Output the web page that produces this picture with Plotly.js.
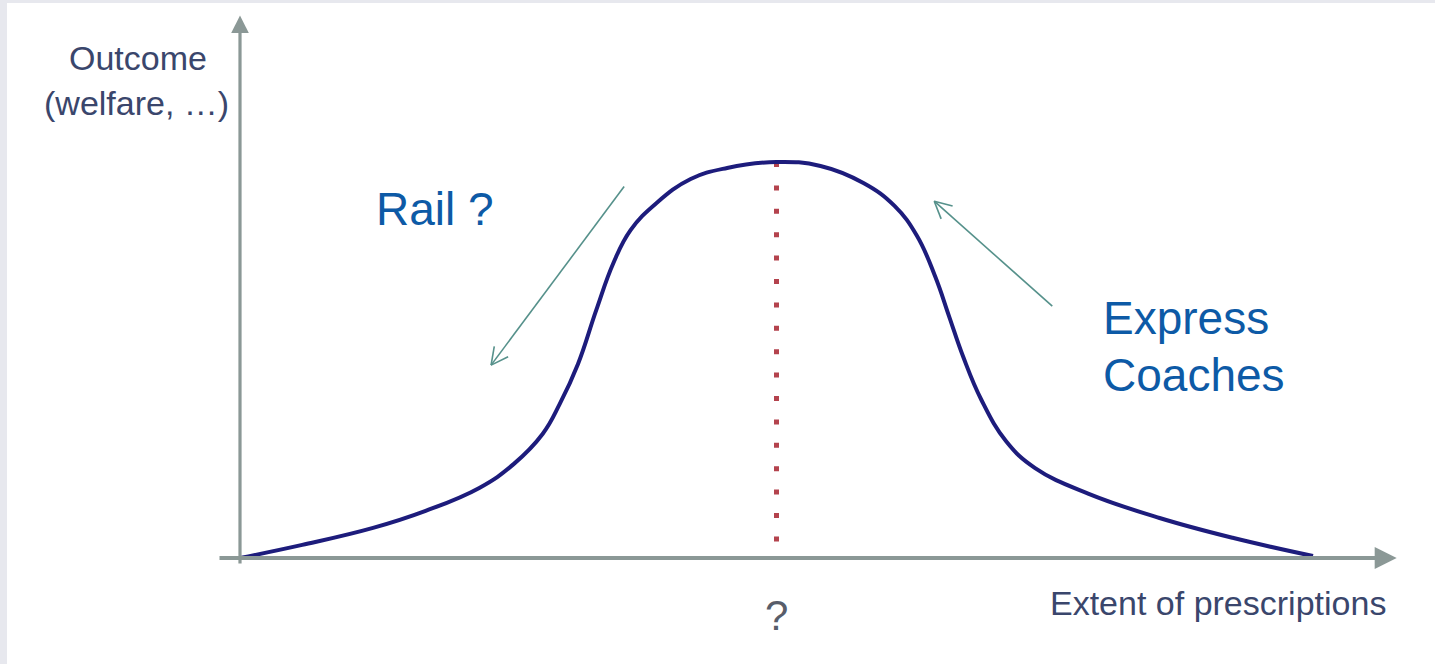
<!DOCTYPE html>
<html>
<head>
<meta charset="utf-8">
<script src="https://cdn.plot.ly/plotly-3.0.1.min.js"></script>
<style>
  html, body { margin: 0; padding: 0; background: #ffffff; overflow: hidden; }
  #frame {
    width: 1428px; height: 661px;
    border-left: 7px solid #e7e8ee;
    border-top: 3px solid #e7e8ee;
  }
  #chart { width: 1428px; height: 661px; }
</style>
</head>
<body>
<div id="frame"><div id="chart"></div></div>
<script>
// Extent of prescriptions (x) and resulting outcome (y) along the bell-shaped curve
const extent  = [0.00, 0.58, 1.24, 1.73, 2.23, 2.55, 2.82, 2.98, 3.15, 3.32, 3.48, 3.64, 3.88, 4.20, 4.54, 5.00,
                 5.41, 5.81, 6.10, 6.31, 6.48, 6.61, 6.74, 6.91, 7.14, 7.41, 7.91, 8.57, 9.25, 10.00];
const outcome = [0.000, 0.033, 0.076, 0.119, 0.177, 0.237, 0.313, 0.389, 0.490, 0.626, 0.745, 0.828, 0.896, 0.957, 0.985, 1.000,
                 0.990, 0.947, 0.889, 0.813, 0.710, 0.609, 0.508, 0.399, 0.295, 0.227, 0.162, 0.101, 0.051, 0.005];

// Optimum marker: vertical dotted line from the peak down to the axis
const optimumX = [5.0, 5.0];
const optimumY = [1.0, 0.033];
const optimumLabel = '?';

// Axis titles
const yTitleLines = ['Outcome', '(welfare, \u2026)'];
const xTitle = 'Extent of prescriptions';

// Mode labels with the direction arrows pointing along the curve (tail -> head)
const railLabel = 'Rail ?';
const railArrowX = [3.58, 2.34];
const railArrowY = [0.938, 0.487];
const coachLabels = ['Express', 'Coaches'];
const coachArrowX = [7.57, 6.47];
const coachArrowY = [0.636, 0.901];

// Axis arrows (tail -> head)
const xAxisArrowX = [-0.205, 10.78];
const xAxisArrowY = [0, 0];
const yAxisArrowX = [0, 0];
const yAxisArrowY = [-0.018, 1.37];

const W = 1428, H = 661;
const xRange = [-2.1715, 11.137];
const yRange = [-0.2677, 1.4015];
const pxPerX = W / (xRange[1] - xRange[0]);
const pxPerY = H / (yRange[1] - yRange[0]);

const axisColor = '#8b9896';
const arrowColor = '#56918b';
const labelBlue = '#0d5aa6';
const axisText = '#3a466c';
const font = 'Liberation Sans, Arial, sans-serif';

const traces = [
  {
    x: optimumX, y: optimumY, mode: 'lines', hoverinfo: 'skip',
    line: { color: '#b4434d', width: 5, dash: '5px,18.4px' }
  },
  {
    x: extent, y: outcome, mode: 'lines', hoverinfo: 'skip',
    line: { color: '#1d1c7c', width: 4, shape: 'spline', smoothing: 1.2 }
  }
];

// Thin arrow with an open V head, drawn as line shapes
function openArrow(xs, ys, color) {
  const shapes = [{
    type: 'line', xref: 'x', yref: 'y',
    x0: xs[0], y0: ys[0], x1: xs[1], y1: ys[1],
    line: { color: color, width: 1.6 }
  }];
  // direction from head back to tail, in pixels
  const dx = (xs[0] - xs[1]) * pxPerX;
  const dy = (ys[0] - ys[1]) * pxPerY;
  const len = Math.hypot(dx, dy);
  const ux = dx / len, uy = dy / len;
  const wing = 19, ang = 27 * Math.PI / 180;
  [ang, -ang].forEach(a => {
    const wx = ux * Math.cos(a) - uy * Math.sin(a);
    const wy = ux * Math.sin(a) + uy * Math.cos(a);
    shapes.push({
      type: 'line', xref: 'x', yref: 'y',
      x0: xs[1], y0: ys[1],
      x1: xs[1] + wx * wing / pxPerX, y1: ys[1] + wy * wing / pxPerY,
      line: { color: color, width: 1.6 }
    });
  });
  return shapes;
}

function axisArrow(xs, ys, width) {
  return {
    x: xs[1], y: ys[1], ax: xs[0], ay: ys[0],
    xref: 'x', yref: 'y', axref: 'x', ayref: 'y',
    text: '', showarrow: true, arrowhead: 2, arrowsize: 1.1,
    arrowwidth: width, arrowcolor: axisColor, standoff: 0, startstandoff: 0
  };
}

const annotations = [
  axisArrow(xAxisArrowX, xAxisArrowY, 4),
  axisArrow(yAxisArrowX, yAxisArrowY, 3.2),
  { x: -0.95, y: 1.262, xref: 'x', yref: 'y', text: yTitleLines[0], showarrow: false,
    xanchor: 'center', yanchor: 'middle', font: { family: font, size: 34, color: axisText } },
  { x: -0.96, y: 1.149, xref: 'x', yref: 'y', text: yTitleLines[1], showarrow: false,
    xanchor: 'center', yanchor: 'middle', font: { family: font, size: 34, color: axisText } },
  { x: 10.70, y: -0.114, xref: 'x', yref: 'y', text: xTitle, showarrow: false,
    xanchor: 'right', yanchor: 'middle', font: { family: font, size: 34, color: axisText } },
  { x: optimumX[0], y: -0.144, xref: 'x', yref: 'y', text: optimumLabel, showarrow: false,
    xanchor: 'center', yanchor: 'middle', font: { family: font, size: 42, color: '#585d6a' } },
  { x: 1.25, y: 0.881, xref: 'x', yref: 'y', text: railLabel, showarrow: false,
    xanchor: 'left', yanchor: 'middle', font: { family: font, size: 46, color: labelBlue } },
  { x: 8.02, y: 0.606, xref: 'x', yref: 'y', text: coachLabels[0], showarrow: false,
    xanchor: 'left', yanchor: 'middle', font: { family: font, size: 46, color: labelBlue } },
  { x: 8.02, y: 0.462, xref: 'x', yref: 'y', text: coachLabels[1], showarrow: false,
    xanchor: 'left', yanchor: 'middle', font: { family: font, size: 46, color: labelBlue } }
];

const layout = {
  width: W, height: H,
  margin: { l: 0, r: 0, t: 0, b: 0, pad: 0 },
  paper_bgcolor: '#ffffff', plot_bgcolor: '#ffffff',
  showlegend: false,
  xaxis: { range: xRange, visible: false, fixedrange: true },
  yaxis: { range: yRange, visible: false, fixedrange: true },
  shapes: [].concat(openArrow(railArrowX, railArrowY, arrowColor),
                    openArrow(coachArrowX, coachArrowY, arrowColor)),
  annotations: annotations
};

Plotly.newPlot('chart', traces, layout, { displayModeBar: false, staticPlot: true });
</script>
</body>
</html>
